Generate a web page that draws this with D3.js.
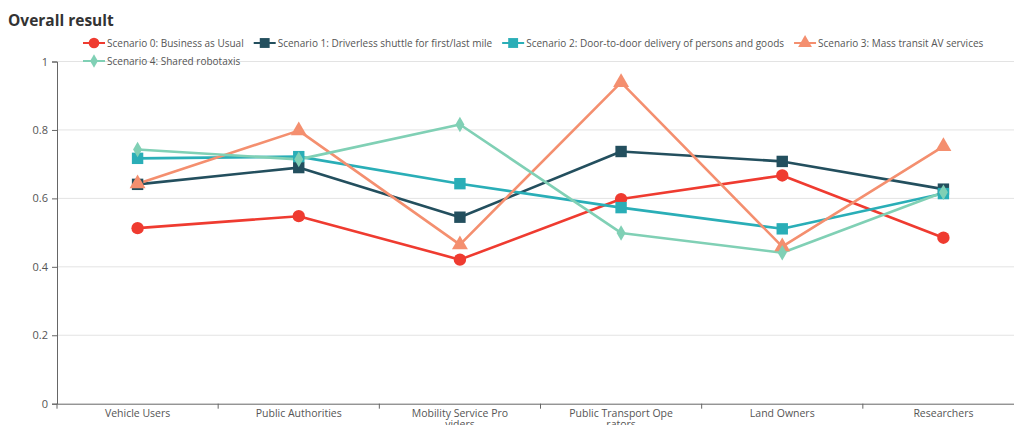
<!DOCTYPE html>
<html><head><meta charset="utf-8">
<script src="https://cdn.jsdelivr.net/npm/d3@7"></script>
<style>
html,body{margin:0;padding:0;background:#fff;overflow:hidden;}
svg{display:block;font-family:"Open Sans","Noto Sans",sans-serif;}
</style></head>
<body>
<svg id="chart" width="1014" height="425"></svg>
<script>
const categories = ["Vehicle Users","Public Authorities","Mobility Service Pro\nviders","Public Transport Ope\nrators","Land Owners","Researchers"];
const seriesNames = ["Scenario 0: Business as Usual","Scenario 1: Driverless shuttle for first/last mile","Scenario 2: Door-to-door delivery of persons and goods","Scenario 3: Mass transit AV services","Scenario 4: Shared robotaxis"];
const s0 = [0.513, 0.548, 0.421, 0.598, 0.667, 0.485];
const s1 = [0.641, 0.690, 0.545, 0.737, 0.708, 0.627];
const s2 = [0.717, 0.722, 0.643, 0.573, 0.511, 0.614];
const s3 = [0.643, 0.798, 0.465, 0.939, 0.459, 0.752];
const s4 = [0.743, 0.714, 0.816, 0.499, 0.441, 0.618];
const yTicks = [0, 0.2, 0.4, 0.6, 0.8, 1];
const colors = ["#ef3b30","#234f5e","#2aaeb7","#f48f6f","#80d0b5"];
const symbols = [d3.symbolCircle, d3.symbolSquare, d3.symbolSquare, d3.symbolTriangle, d3.symbolDiamond];
const symSizes = [120, 130, 130, 110, 70];
const series = [s0,s1,s2,s3,s4];

const svg = d3.select("#chart");
const pLeft = 57, pTop = 61.5, pBottom = 403.7, pRight = 1024;

const x = d3.scaleBand().domain(categories).range([pLeft, pRight]);
const y = d3.scaleLinear().domain([0,1]).range([pBottom, pTop]);

// title
svg.append("text").attr("x",8).attr("y",26).attr("font-size",15.5).attr("font-weight","bold")
  .attr("fill","#333").text("Overall result");

// grid
svg.append("g").selectAll("line").data(yTicks.filter(d=>d>0)).join("line")
  .attr("x1",pLeft).attr("x2",pRight).attr("y1",d=>y(d)).attr("y2",d=>y(d))
  .attr("stroke","#e3e3e3").attr("stroke-width",1);

// y axis
const ya = svg.append("g").attr("transform",`translate(${pLeft},0)`)
  .call(d3.axisLeft(y).tickValues(yTicks).tickSize(5).tickPadding(4).tickFormat(d=>d3.format("~g")(d)));
ya.select(".domain").attr("stroke","#666");
ya.selectAll(".tick line").attr("stroke","#666");
ya.selectAll("text").attr("font-size",11).attr("fill","#555").attr("font-family","Open Sans, Noto Sans, sans-serif");

// x axis
const xa = svg.append("g").attr("transform",`translate(0,${pBottom})`)
  .call(d3.axisBottom(x).tickSize(0).tickPadding(6));
xa.select(".domain").attr("stroke","#666");
xa.selectAll(".tick text").each(function(d){
  const t = d3.select(this); t.text(null);
  d.split("\n").forEach((s,i)=>t.append("tspan").attr("x",0).attr("dy", i===0? "0.71em":"1.0em").text(s));
}).attr("font-size",10.5).attr("fill","#555").attr("font-family","Open Sans, Noto Sans, sans-serif");
// boundary ticks
const bounds = categories.map(c=>x(c)).concat([pRight]);
svg.append("g").selectAll("line").data(bounds).join("line")
  .attr("x1",d=>d).attr("x2",d=>d).attr("y1",pBottom).attr("y2",pBottom+5).attr("stroke","#666");

// lines
const line = d3.line().x((d,i)=>x(categories[i])+x.bandwidth()/2).y(d=>y(d));
series.forEach((s,k)=>{
  svg.append("path").datum(s).attr("d",line).attr("fill","none")
    .attr("stroke",colors[k]).attr("stroke-width",2.6).attr("stroke-linejoin","round");
});
series.forEach((s,k)=>{
  svg.append("g").selectAll("path").data(s).join("path")
    .attr("transform",(d,i)=>`translate(${x(categories[i])+x.bandwidth()/2},${y(d)})`)
    .attr("d",d3.symbol().type(symbols[k]).size(symSizes[k]))
    .attr("fill",colors[k]);
});

// legend
const lg = svg.append("g").attr("font-size",10).attr("fill","#555");
let lx = 83, ly = 43;
seriesNames.forEach((n,k)=>{
  const g = lg.append("g");
  const t = g.append("text").attr("x",24).attr("y",0).attr("dy","0.35em").attr("fill","#555").text(n);
  const w = t.node().getComputedTextLength() + 24;
  if (lx + w > 1000) { lx = 83; ly += 18; }
  g.attr("transform",`translate(${lx},${ly})`);
  g.append("line").attr("x1",0).attr("x2",22).attr("y1",0).attr("y2",0).attr("stroke",colors[k]).attr("stroke-width",2);
  g.append("path").attr("transform","translate(11,0)").attr("d",d3.symbol().type(symbols[k]).size(symSizes[k]*0.75)).attr("fill",colors[k]);
  lx += w + 10;
});
</script>
</body></html>
